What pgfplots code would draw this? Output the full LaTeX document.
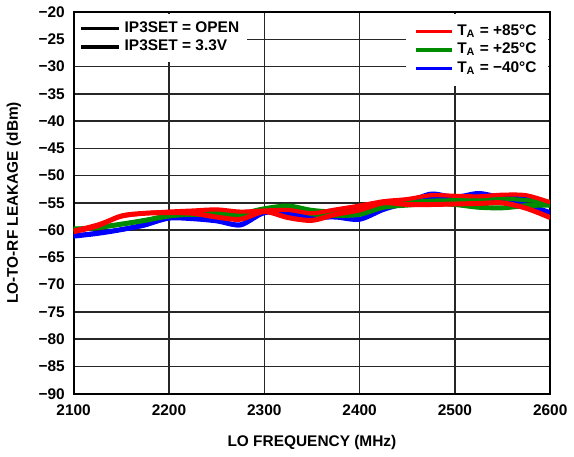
\documentclass[border=0pt]{standalone}
\usepackage{fontspec}
\setmainfont{Liberation Sans}
\usepackage{pgfplots}
\usepackage{pgfplotstable}
\pgfplotsset{compat=1.18}
\definecolor{cred}{RGB}{255,0,0}
\definecolor{cgreen}{RGB}{0,140,0}
\definecolor{cblue}{RGB}{0,0,255}
\pgfplotstableread{
f    R1    R2    G1    G2    B1    B2
2100 -60.1 -60.3 -59.7 -59.9 -61.0 -61.1
2125 -59.0 -59.2 -59.6 -59.5 -60.5 -60.6
2150 -57.5 -57.4 -58.9 -58.9 -59.9 -59.9
2175 -56.9 -56.9 -58.2 -58.2 -59.1 -59.0
2200 -56.6 -56.8 -57.3 -57.4 -57.6 -57.8
2225 -56.4 -56.9 -56.9 -57.1 -57.7 -57.9
2250 -56.2 -57.6 -56.7 -57.3 -58.1 -58.3
2275 -56.6 -58.0 -56.9 -57.3 -59.1 -59.0
2300 -56.4 -56.6 -56.0 -56.2 -56.6 -56.8
2325 -56.3 -57.7 -55.5 -56.0 -56.2 -57.0
2350 -56.9 -58.2 -56.3 -57.0 -56.6 -57.6
2375 -56.2 -57.1 -56.6 -57.3 -56.4 -57.6
2400 -55.5 -56.3 -56.4 -57.1 -56.0 -58.0
2425 -54.7 -55.0 -55.3 -55.8 -55.2 -56.2
2450 -54.3 -55.3 -54.9 -55.4 -54.8 -55.0
2475 -53.6 -55.3 -54.6 -55.1 -53.3 -54.2
2500 -53.7 -55.2 -54.5 -55.3 -53.9 -54.0
2525 -53.8 -55.1 -54.3 -55.8 -53.2 -54.5
2550 -53.5 -55.0 -54.2 -55.9 -54.0 -54.6
2575 -53.6 -56.0 -54.5 -55.5 -54.3 -55.4
2600 -54.9 -57.7 -54.8 -55.4 -55.5 -56.8
}\data
\begin{document}
\begin{tikzpicture}[font=\fontsize{7.8}{9}\selectfont\bfseries]
\begin{axis}[
  scale only axis, width=241pt, height=193pt,
  xmin=2100, xmax=2600, ymin=-90, ymax=-20,
  xtick={2100,2200,2300,2400,2500,2600},
  xticklabels={2100,2200,2300,2400,2500,2600},
  ytick={-90,-85,-80,-75,-70,-65,-60,-55,-50,-45,-40,-35,-30,-25,-20},
  yticklabels={−90,−85,−80,−75,−70,−65,−60,−55,−50,−45,−40,−35,−30,−25,−20},
  grid=major, major grid style={black!85, line width=0.75pt},
  axis line style={black, line width=1pt},
  major tick length=0pt,
  tick label style={font=\fontsize{7.8}{9}\selectfont\bfseries},
  xticklabel style={yshift=-2pt},
  yticklabel style={xshift=-1pt},
  xlabel={LO FREQUENCY (MHz)}, ylabel={LO-TO-RF LEAKAGE (dBm)},
  label style={font=\fontsize{7.8}{9}\selectfont\bfseries},
  xlabel style={yshift=-3pt},
  ylabel style={yshift=2pt},
  legend style={draw=none, fill=white, at={(0.997,0.997)}, anchor=north east,
    inner xsep=4pt, inner ysep=3.5pt, row sep=-1.5pt,
    font=\fontsize{7.8}{9}\selectfont\bfseries},
  legend cell align=left,
  legend image code/.code={\draw[#1] (0pt,0pt) -- (18pt,0pt);},
]
\addplot[cblue, line width=2.1pt, smooth, forget plot] table[x=f, y=B1] {\data};
\addplot[cblue, line width=2.5pt, smooth, forget plot] table[x=f, y=B2] {\data};
\addplot[cgreen, line width=2.1pt, smooth, forget plot] table[x=f, y=G1] {\data};
\addplot[cgreen, line width=2.5pt, smooth, forget plot] table[x=f, y=G2] {\data};
\addplot[cred, line width=2.1pt, smooth, forget plot] table[x=f, y=R1] {\data};
\addplot[cred, line width=2.5pt, smooth, forget plot] table[x=f, y=R2] {\data};
\addlegendimage{cred, line width=1.8pt}
\addlegendentry{T\textsubscript{A} = +85°C}
\addlegendimage{cgreen, line width=1.8pt}
\addlegendentry{T\textsubscript{A} = +25°C}
\addlegendimage{cblue, line width=1.8pt}
\addlegendentry{T\textsubscript{A} = −40°C}
\end{axis}
\begin{axis}[
  scale only axis, width=241pt, height=193pt,
  hide axis, xmin=0, xmax=1, ymin=0, ymax=1,
  legend style={draw=none, fill=white, at={(0.003,0.997)}, anchor=north west,
    inner xsep=2pt, inner ysep=2pt, row sep=-1.5pt,
    font=\fontsize{7.8}{9}\selectfont\bfseries},
  legend cell align=left,
  legend image code/.code={\draw[#1] (0pt,0pt) -- (19pt,0pt);},
]
\addlegendimage{black, line width=1.3pt}
\addlegendentry{IP3SET = OPEN}
\addlegendimage{black, line width=1.9pt}
\addlegendentry{IP3SET = 3.3V}
\end{axis}
\end{tikzpicture}
\end{document}
